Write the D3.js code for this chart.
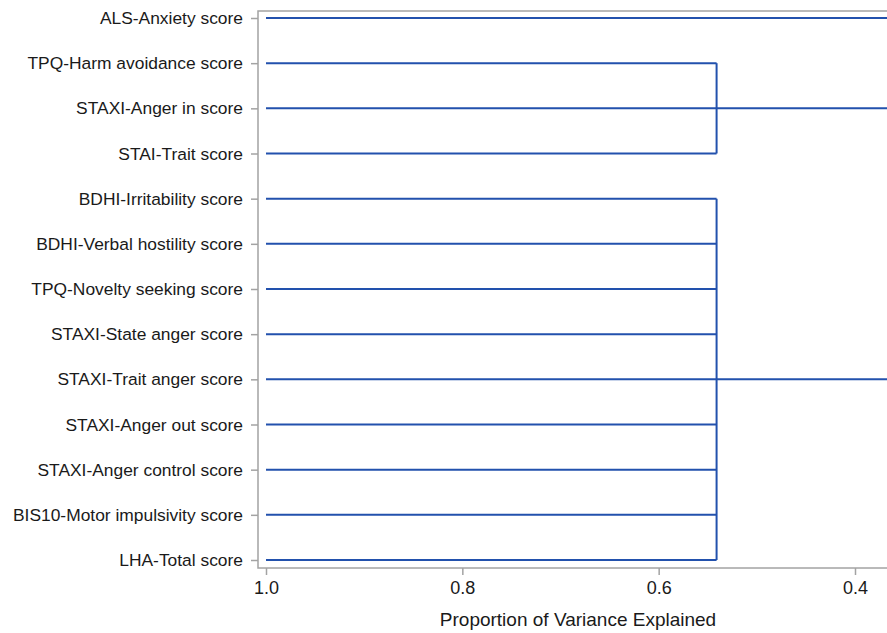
<!DOCTYPE html>
<html>
<head>
<meta charset="utf-8">
<script src="https://cdn.jsdelivr.net/npm/d3@7"></script>
<style>
  html, body { margin: 0; padding: 0; background: #fff; overflow: hidden; }
  svg { display: block; }
  .tick text { fill: #1a1a1a; font-family: "Liberation Sans", Arial, sans-serif; }
</style>
</head>
<body>
<div id="chart"></div>
<script>
// leaf order, top to bottom
const variables = [
  'ALS-Anxiety score',
  'TPQ-Harm avoidance score',
  'STAXI-Anger in score',
  'STAI-Trait score',
  'BDHI-Irritability score',
  'BDHI-Verbal hostility score',
  'TPQ-Novelty seeking score',
  'STAXI-State anger score',
  'STAXI-Trait anger score',
  'STAXI-Anger out score',
  'STAXI-Anger control score',
  'BIS10-Motor impulsivity score',
  'LHA-Total score',
];

const clusterA = variables.slice(1, 4);
const clusterB = variables.slice(4);
const clusterAJoin = 0.541;
const clusterBJoin = 0.541;
const rootJoin = 0.36; // beyond the visible edge
const xTicks = [1.0, 0.8, 0.6, 0.4];

const tree = {
  value: rootJoin,
  children: [
    { name: variables[0], value: 1 },
    { value: clusterAJoin, children: clusterA.map((name) => ({ name, value: 1 })) },
    { value: clusterBJoin, children: clusterB.map((name) => ({ name, value: 1 })) },
  ],
};

const width = 960;
const height = 633;
const lineColor = '#2251ad';
const frameColor = '#a3a3a3';

const frame = { left: 258, right: 898, top: 11, bottom: 568 };

const x = d3.scaleLinear().domain([1.0, 0.4]).range([266, 855]);
const y = d3.scalePoint().domain(variables).range([18, 560]);

const svg = d3.select('#chart')
  .append('svg')
  .attr('width', width)
  .attr('height', height);

// place nodes
const root = d3.hierarchy(tree);
root.eachAfter((d) => {
  if (!d.children) {
    d.py = y(d.data.name);
  } else {
    d.py = (d.children[0].py + d.children[d.children.length - 1].py) / 2;
  }
  d.px = x(d.data.value);
});

const links = svg.append('g').attr('class', 'links')
  .attr('fill', 'none')
  .attr('stroke', lineColor)
  .attr('stroke-width', 2);

root.descendants().filter((d) => d.children).forEach((node) => {
  const kids = node.children;
  links.append('line')
    .attr('x1', node.px).attr('x2', node.px)
    .attr('y1', kids[0].py).attr('y2', kids[kids.length - 1].py);
  kids.forEach((k) => {
    links.append('line')
      .attr('x1', k.px).attr('x2', node.px)
      .attr('y1', k.py).attr('y2', k.py);
  });
});

// frame
svg.append('rect')
  .attr('x', frame.left)
  .attr('y', frame.top)
  .attr('width', frame.right - frame.left)
  .attr('height', frame.bottom - frame.top)
  .attr('fill', 'none')
  .attr('stroke', frameColor)
  .attr('stroke-width', 1.5);

const xAxis = svg.append('g')
  .attr('transform', `translate(0,${frame.bottom})`)
  .call(d3.axisBottom(x).tickValues(xTicks).tickFormat(d3.format('.1f'))
    .tickSize(7).tickPadding(6));
xAxis.select('.domain').remove();
xAxis.selectAll('.tick line').attr('stroke', frameColor).attr('stroke-width', 1.5);
xAxis.selectAll('.tick text').style('font-size', '18px');

const yAxis = svg.append('g')
  .attr('transform', `translate(${frame.left},0)`)
  .call(d3.axisLeft(y).tickSize(7).tickPadding(8));
yAxis.select('.domain').remove();
yAxis.selectAll('.tick line').attr('stroke', frameColor).attr('stroke-width', 1.5);
yAxis.selectAll('.tick text').style('font-size', '17.4px');

svg.append('text')
  .attr('x', (frame.left + frame.right) / 2)
  .attr('y', 626)
  .attr('text-anchor', 'middle')
  .attr('fill', '#1a1a1a')
  .style('font-family', '"Liberation Sans", Arial, sans-serif')
  .style('font-size', '19px')
  .text('Proportion of Variance Explained');
</script>
</body>
</html>
